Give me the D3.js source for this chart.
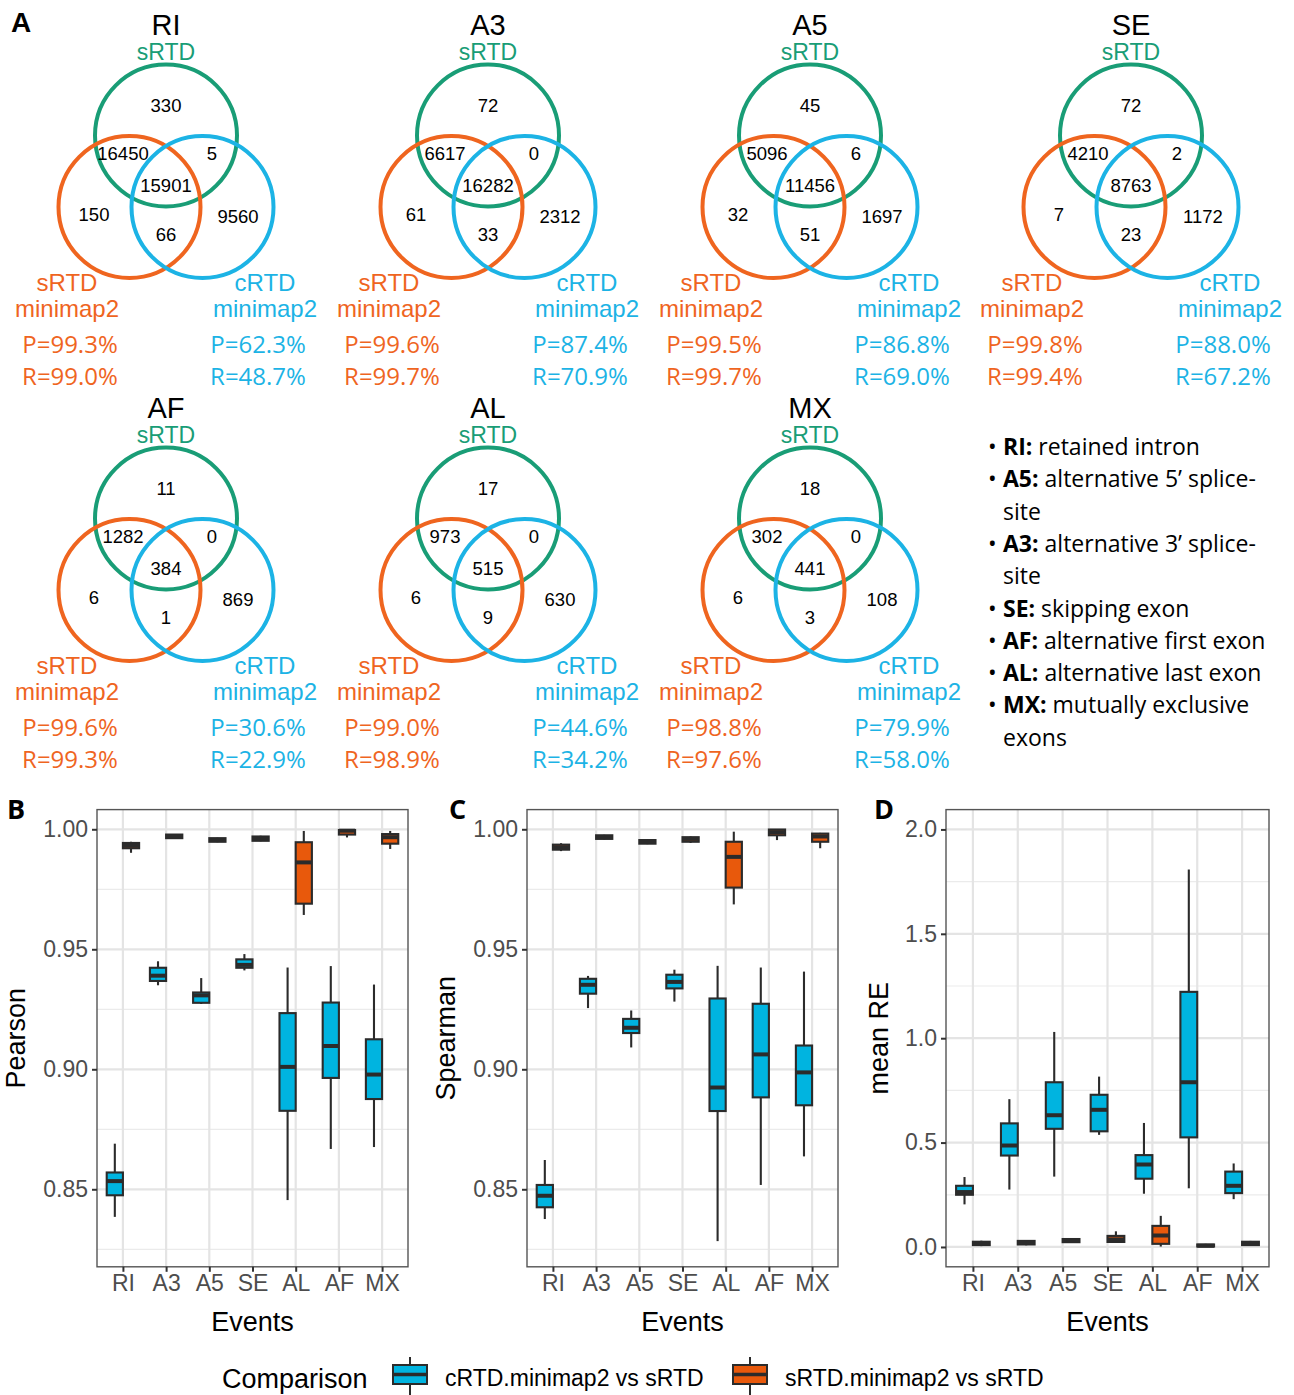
<!DOCTYPE html>
<html>
<head>
<meta charset="utf-8">
<script src="https://cdn.jsdelivr.net/npm/d3@7"></script>
<style>
  body { margin: 0; background: #fff; }
  svg { display: block; }
</style>
</head>
<body>
<script>
const W = 1294, H = 1395;

// ---------- Venn data (panel A) ----------
const vennEvents = ["RI", "A3", "A5", "SE", "AF", "AL", "MX"];
// regions: sRTD only, sRTD&sMini, sRTD&cMini, all three, sMini only, cMini only, sMini&cMini
const vennCounts = [
  [330, 16450, 5, 15901, 150, 9560, 66],
  [72, 6617, 0, 16282, 61, 2312, 33],
  [45, 5096, 6, 11456, 32, 1697, 51],
  [72, 4210, 2, 8763, 7, 1172, 23],
  [11, 1282, 0, 384, 6, 869, 1],
  [17, 973, 0, 515, 6, 630, 9],
  [18, 302, 0, 441, 6, 108, 3]
];
const sMiniP = [99.3, 99.6, 99.5, 99.8, 99.6, 99.0, 98.8];
const sMiniR = [99.0, 99.7, 99.7, 99.4, 99.3, 98.9, 97.6];
const cMiniP = [62.3, 87.4, 86.8, 88.0, 30.6, 44.6, 79.9];
const cMiniR = [48.7, 70.9, 69.0, 67.2, 22.9, 34.2, 58.0];

const glossTerms = ["RI:", "A5:", "A3:", "SE:", "AF:", "AL:", "MX:"];
const glossText = [
  ["retained intron"],
  ["alternative 5\u2019 splice-", "site"],
  ["alternative 3\u2019 splice-", "site"],
  ["skipping exon"],
  ["alternative first exon"],
  ["alternative last exon"],
  ["mutually exclusive", "exons"]
];

// ---------- box plot data (panels B-D) ----------
const events = ["RI", "A3", "A5", "SE", "AL", "AF", "MX"];
const comparisons = ["cRTD.minimap2 vs sRTD", "sRTD.minimap2 vs sRTD"];
// each row: [lower whisker, Q1, median, Q3, upper whisker]
const pearsonC = [
  [0.8385, 0.8475, 0.8534, 0.8570, 0.8690],
  [0.9350, 0.9368, 0.9390, 0.9423, 0.9450],
  [0.9272, 0.9277, 0.9308, 0.9320, 0.9380],
  [0.9412, 0.9423, 0.9435, 0.9458, 0.9480],
  [0.8455, 0.8827, 0.9010, 0.9234, 0.9424],
  [0.8668, 0.8964, 0.9097, 0.9278, 0.9430],
  [0.8676, 0.8876, 0.8978, 0.9125, 0.9353]
];
const pearsonS = [
  [0.9902, 0.9921, 0.9932, 0.9943, 0.9948],
  [0.9960, 0.9963, 0.9970, 0.9978, 0.9980],
  [0.9946, 0.9948, 0.9955, 0.9963, 0.9965],
  [0.9950, 0.9952, 0.9962, 0.9970, 0.9973],
  [0.9643, 0.9690, 0.9862, 0.9946, 0.9993],
  [0.9966, 0.9978, 0.9994, 0.9997, 1.0000],
  [0.9918, 0.9940, 0.9967, 0.9980, 0.9993]
];
const spearmanC = [
  [0.8376, 0.8425, 0.8473, 0.8518, 0.8622],
  [0.9255, 0.9315, 0.9352, 0.9377, 0.9389],
  [0.9091, 0.9151, 0.9173, 0.9210, 0.9245],
  [0.9282, 0.9337, 0.9364, 0.9394, 0.9415],
  [0.8284, 0.8826, 0.8924, 0.9295, 0.9431],
  [0.8518, 0.8883, 0.9062, 0.9273, 0.9424],
  [0.8637, 0.8850, 0.8987, 0.9099, 0.9407]
];
const spearmanS = [
  [0.9909, 0.9915, 0.9925, 0.9936, 0.9942],
  [0.9958, 0.9960, 0.9967, 0.9975, 0.9977],
  [0.9938, 0.9940, 0.9948, 0.9955, 0.9957],
  [0.9943, 0.9948, 0.9960, 0.9967, 0.9970],
  [0.9687, 0.9757, 0.9885, 0.9948, 0.9990],
  [0.9955, 0.9975, 0.9988, 0.9999, 1.0000],
  [0.9921, 0.9948, 0.9970, 0.9982, 0.9985]
];
const meanReC = [
  [0.204, 0.250, 0.263, 0.293, 0.335],
  [0.275, 0.438, 0.486, 0.592, 0.708],
  [0.337, 0.566, 0.631, 0.789, 1.030],
  [0.537, 0.554, 0.657, 0.729, 0.816],
  [0.255, 0.327, 0.395, 0.440, 0.594],
  [0.281, 0.525, 0.789, 1.222, 1.808],
  [0.229, 0.258, 0.293, 0.361, 0.400]
];
const meanReS = [
  [0.004, 0.009, 0.017, 0.025, 0.030],
  [0.008, 0.012, 0.020, 0.029, 0.033],
  [0.020, 0.023, 0.030, 0.038, 0.041],
  [0.022, 0.024, 0.036, 0.053, 0.075],
  [0.002, 0.015, 0.055, 0.101, 0.149],
  [0.000, 0.002, 0.006, 0.012, 0.015],
  [0.005, 0.009, 0.017, 0.025, 0.029]
];

const green = "#199d76", orange = "#ef651f", blue = "#1cb3e5";
const boxFill = ["#00b4e0", "#e8590c"];
const sans = "'Liberation Sans', Arial, sans-serif";
const cal = "'Open Sans', sans-serif";

const svg = d3.select("body").append("svg")
  .attr("width", W).attr("height", H)
  .style("font-family", sans);

/* ------------- A: Venn diagrams ------------- */

svg.append("text").attr("x", 11).attr("y", 32)
  .attr("font-size", 28).attr("font-weight", "bold").text("A");

const vennCx = [166, 488, 810, 1131, 166, 488, 810];
const vennRow = [0, 0, 0, 0, 383, 383, 383];
// label spots inside the circles, same order as vennCounts
const spots = [[0, 105], [-43, 153], [46, 153], [0, 185], [-72, 214], [72, 216], [0, 234]];

vennEvents.forEach((ev, i) => {
  const g = svg.append("g")
    .attr("transform", "translate(" + vennCx[i] + "," + vennRow[i] + ")");

  g.append("text").attr("x", 0).attr("y", 35).attr("text-anchor", "middle")
    .attr("font-size", 29).text(ev);
  g.append("text").attr("x", 0).attr("y", 60).attr("text-anchor", "middle")
    .attr("font-size", 23).attr("fill", green).text("sRTD");

  const circles = [[0, 135.5, green], [-36.5, 207, orange], [36.5, 207, blue]];
  g.selectAll("circle").data(circles).enter().append("circle")
    .attr("cx", d => d[0]).attr("cy", d => d[1]).attr("r", 71)
    .attr("fill", "none").attr("stroke", d => d[2]).attr("stroke-width", 4);

  g.selectAll("text.n").data(vennCounts[i]).enter().append("text")
    .attr("class", "n")
    .attr("x", (d, k) => spots[k][0]).attr("y", (d, k) => spots[k][1] + 6.5)
    .attr("text-anchor", "middle").attr("font-size", 18.5)
    .text(d => d);

  g.append("text").attr("x", -99).attr("y", 291).attr("text-anchor", "middle")
    .attr("font-size", 24).attr("fill", orange).text("sRTD");
  g.append("text").attr("x", -99).attr("y", 317).attr("text-anchor", "middle")
    .attr("font-size", 24).attr("fill", orange).text("minimap2");
  g.append("text").attr("x", 99).attr("y", 291).attr("text-anchor", "middle")
    .attr("font-size", 24).attr("fill", blue).text("cRTD");
  g.append("text").attr("x", 99).attr("y", 317).attr("text-anchor", "middle")
    .attr("font-size", 24).attr("fill", blue).text("minimap2");

  const pr = g.append("g").style("font-family", cal).attr("font-size", 24)
    .attr("text-anchor", "middle");
  pr.append("text").attr("x", -96).attr("y", 353).attr("fill", orange)
    .text("P=" + sMiniP[i].toFixed(1) + "%");
  pr.append("text").attr("x", -96).attr("y", 385).attr("fill", orange)
    .text("R=" + sMiniR[i].toFixed(1) + "%");
  pr.append("text").attr("x", 92).attr("y", 353).attr("fill", blue)
    .text("P=" + cMiniP[i].toFixed(1) + "%");
  pr.append("text").attr("x", 92).attr("y", 385).attr("fill", blue)
    .text("R=" + cMiniR[i].toFixed(1) + "%");
});

// glossary
const gloss = svg.append("g").style("font-family", cal).attr("font-size", 23);
let line = 0;
glossTerms.forEach((term, i) => {
  glossText[i].forEach((txt, j) => {
    const y = 455 + line * 32.3;
    const t = gloss.append("text").attr("x", 1003).attr("y", y);
    if (j === 0) {
      gloss.append("text").attr("x", 988).attr("y", y).text("\u2022");
      t.append("tspan").attr("font-weight", "bold").text(term);
      t.append("tspan").text(" " + txt);
    } else {
      t.text(txt);
    }
    line++;
  });
});

/* ------------- B-D: box plots ------------- */

function boxPanel(opt) {
  const x = d3.scalePoint().domain(events).range([opt.x0, opt.x1]).padding(0.6);
  const y = d3.scaleLinear().domain(opt.domain).range([opt.y1, opt.y0]);
  const step = x.step();
  const bw = step * 0.375;
  const g = svg.append("g");

  // background grid
  g.selectAll("line.minor").data(opt.minor).enter().append("line")
    .attr("x1", opt.x0).attr("x2", opt.x1)
    .attr("y1", d => y(d)).attr("y2", d => y(d))
    .attr("stroke", "#ebebeb").attr("stroke-width", 1.2);
  g.selectAll("line.major").data(opt.ticks).enter().append("line")
    .attr("x1", opt.x0).attr("x2", opt.x1)
    .attr("y1", d => y(d)).attr("y2", d => y(d))
    .attr("stroke", "#e4e4e4").attr("stroke-width", 2.2);
  g.selectAll("line.vmajor").data(events).enter().append("line")
    .attr("x1", d => x(d)).attr("x2", d => x(d))
    .attr("y1", opt.y0).attr("y2", opt.y1)
    .attr("stroke", "#e4e4e4").attr("stroke-width", 2.2);

  // boxes
  [opt.c, opt.s].forEach((series, si) => {
    const off = (si === 0 ? -0.5 : 0.5) * bw;
    const bg = g.append("g").attr("stroke", "#2b2b2b").attr("stroke-width", 2.1);
    series.forEach((b, k) => {
      const cx = x(events[k]) + off;
      bg.append("line").attr("x1", cx).attr("x2", cx)
        .attr("y1", y(b[0])).attr("y2", y(b[1]));
      bg.append("line").attr("x1", cx).attr("x2", cx)
        .attr("y1", y(b[3])).attr("y2", y(b[4]));
      bg.append("rect").attr("x", cx - bw / 2).attr("width", bw)
        .attr("y", y(b[3])).attr("height", Math.max(0.5, y(b[1]) - y(b[3])))
        .attr("fill", boxFill[si]);
      bg.append("line").attr("x1", cx - bw / 2).attr("x2", cx + bw / 2)
        .attr("y1", y(b[2])).attr("y2", y(b[2])).attr("stroke-width", 4);
    });
  });

  // panel border
  g.append("rect").attr("x", opt.x0).attr("y", opt.y0)
    .attr("width", opt.x1 - opt.x0).attr("height", opt.y1 - opt.y0)
    .attr("fill", "none").attr("stroke", "#555").attr("stroke-width", 1.4);

  // axes
  const ya = g.append("g").attr("transform", "translate(" + opt.x0 + ",0)")
    .call(d3.axisLeft(y).tickValues(opt.ticks).tickFormat(d3.format(opt.fmt))
      .tickSize(5).tickPadding(4));
  const xa = g.append("g").attr("transform", "translate(0," + opt.y1 + ")")
    .call(d3.axisBottom(x).tickSize(5).tickPadding(3));
  [ya, xa].forEach(a => {
    a.select(".domain").remove();
    a.selectAll(".tick line").attr("stroke", "#333").attr("stroke-width", 2);
    a.selectAll(".tick text").attr("fill", "#4d4d4d")
      .style("font-family", sans).attr("font-size", 23);
  });

  g.append("text").attr("x", (opt.x0 + opt.x1) / 2).attr("y", 1331)
    .attr("text-anchor", "middle").attr("font-size", 27).text("Events");
  g.append("text")
    .attr("transform", "translate(" + opt.titleX + "," + (opt.y0 + opt.y1) / 2 + ") rotate(-90)")
    .attr("text-anchor", "middle").attr("dy", "0.35em")
    .attr("font-size", 27).text(opt.title);
  svg.append("text").attr("x", opt.labelX).attr("y", 819)
    .style("font-family", cal).attr("font-weight", "bold").attr("font-size", 27)
    .text(opt.label);
}

boxPanel({ x0: 97, x1: 408, y0: 809.6, y1: 1266.8, domain: [0.8177, 1.0082],
  ticks: [0.85, 0.90, 0.95, 1.00], minor: [0.825, 0.875, 0.925, 0.975], fmt: ".2f",
  c: pearsonC, s: pearsonS, title: "Pearson", titleX: 16, label: "B", labelX: 7 });
boxPanel({ x0: 527, x1: 838, y0: 809.6, y1: 1266.8, domain: [0.8177, 1.0082],
  ticks: [0.85, 0.90, 0.95, 1.00], minor: [0.825, 0.875, 0.925, 0.975], fmt: ".2f",
  c: spearmanC, s: spearmanS, title: "Spearman", titleX: 446, label: "C", labelX: 449 });
boxPanel({ x0: 946, x1: 1269, y0: 809.6, y1: 1266.8, domain: [-0.095, 2.095],
  ticks: [0, 0.5, 1, 1.5, 2], minor: [0.25, 0.75, 1.25, 1.75], fmt: ".1f",
  c: meanReC, s: meanReS, title: "mean RE", titleX: 879, label: "D", labelX: 874 });

/* ------------- legend ------------- */

const leg = svg.append("g");
leg.append("text").attr("x", 222).attr("y", 1388).attr("font-size", 27).text("Comparison");
const keyX = [393, 733];
comparisons.forEach((c, i) => {
  const k = leg.append("g").attr("stroke", "#2b2b2b").attr("stroke-width", 2);
  const cx = keyX[i] + 17;
  k.append("line").attr("x1", cx).attr("x2", cx).attr("y1", 1357).attr("y2", 1395);
  k.append("rect").attr("x", keyX[i]).attr("y", 1365).attr("width", 34).attr("height", 19)
    .attr("fill", boxFill[i]);
  k.append("line").attr("x1", keyX[i]).attr("x2", keyX[i] + 34)
    .attr("y1", 1374.5).attr("y2", 1374.5).attr("stroke-width", 3.4);
  leg.append("text").attr("x", keyX[i] + 52).attr("y", 1386).attr("font-size", 23).text(c);
});
</script>
</body>
</html>
